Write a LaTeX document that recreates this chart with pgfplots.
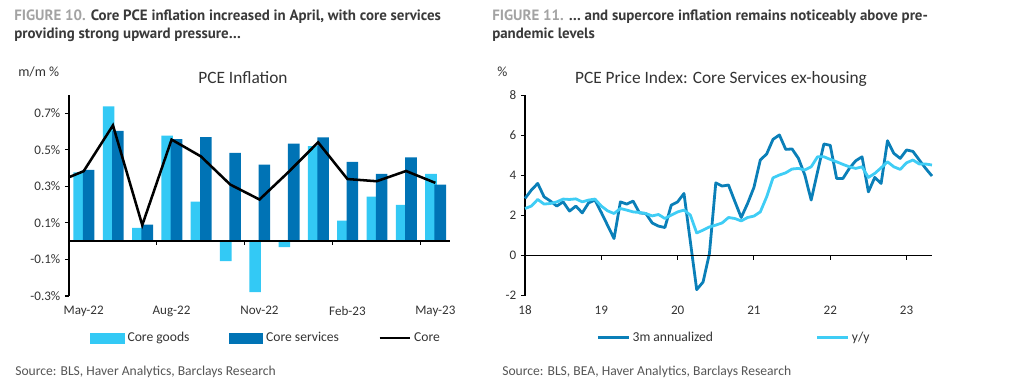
\documentclass[border=0pt]{standalone}
\usepackage{fontspec}
\setmainfont{Carlito}
\newfontfamily\headfont{PT Sans}
\usepackage{pgfplots}
\pgfplotsset{compat=1.18}
\definecolor{cgoods}{HTML}{33C9F5}
\definecolor{cserv}{HTML}{0073B5}
\definecolor{dline}{HTML}{0A7FB8}
\definecolor{lline}{HTML}{3FCDF5}
\definecolor{hdgray}{HTML}{3A3A3A}
\definecolor{figgray}{HTML}{A3A3A3}
\definecolor{srcgray}{HTML}{555555}
\definecolor{txt}{HTML}{333333}

\pgfplotstableread{
m g s
0 0.377 0.390
1 0.738 0.603
2 0.073 0.091
3 0.577 0.559
4 0.217 0.570
5 -0.109 0.483
6 -0.279 0.419
7 -0.033 0.534
8 0.520 0.568
9 0.113 0.434
10 0.244 0.368
11 0.199 0.459
12 0.368 0.310
}\pcebars

\pgfplotstableread{
m c
-0.5 0.350
0 0.383
1 0.634
2 0.088
3 0.556
4 0.464
5 0.310
6 0.228
7 0.380
8 0.541
9 0.340
10 0.328
11 0.384
12 0.319
}\pcecore

\pgfplotstableread{
m a y
0 2.85 2.35
1 3.27 2.47
2 3.60 2.80
3 2.93 2.57
4 2.72 2.60
5 2.47 2.68
6 2.68 2.82
7 2.22 2.80
8 2.47 2.83
9 2.13 2.68
10 2.63 2.77
11 2.77 2.82
12 2.15 2.47
13 1.50 2.23
14 0.85 2.10
15 2.68 2.35
16 2.57 2.27
17 2.72 2.18
18 2.13 2.15
19 2.10 2.10
20 1.63 1.98
21 1.47 2.05
22 1.40 1.85
23 2.52 2.02
24 2.68 2.18
25 3.10 2.27
26 0.70 2.02
27 -1.70 1.13
28 -1.32 1.27
29 0.10 1.43
30 3.63 1.52
31 3.47 1.63
32 3.52 1.90
33 2.70 1.85
34 1.90 1.73
35 2.60 1.90
36 3.40 1.97
37 4.77 2.18
38 5.07 2.93
39 5.80 3.88
40 6.02 4.02
41 5.30 4.13
42 5.32 4.32
43 4.85 4.35
44 4.02 4.27
45 2.77 4.43
46 4.18 4.93
47 5.57 4.93
48 5.50 4.80
49 3.85 4.68
50 3.85 4.55
51 4.35 4.43
52 4.73 4.35
53 4.93 4.43
54 3.18 3.90
55 3.90 4.10
56 3.60 4.38
57 5.73 4.68
58 5.10 4.43
59 4.85 4.30
60 5.27 4.63
61 5.20 4.77
62 4.77 4.57
63 4.35 4.57
64 3.97 4.52
}\supercore

\begin{document}
\begin{tikzpicture}
\useasboundingbox (0,0) rectangle (768pt,285.75pt);

% ---------- left chart ----------
\begin{axis}[
  at={(51.75pt,214.5pt)}, anchor=north west,
  scale only axis, width=285.75pt, height=150.75pt,
  xmin=-0.5, xmax=12.5, ymin=-0.3, ymax=0.8,
  axis y line*=left, axis x line*=bottom,
  x axis line style={draw=none},
  y axis line style={black, line width=1.1pt, -},
  xtick={0,3,6,9,12},
  xticklabels={May-22,Aug-22,Nov-22,Feb-23,May-23},
  xtick style={draw=none},
  ytick={-0.3,-0.1,0.1,0.3,0.5,0.7},
  yticklabels={-0.3\%,-0.1\%,0.1\%,0.3\%,0.5\%,0.7\%},
  ytick style={black, line width=0.8pt},
  tick align=outside, major tick length=3pt,
  tick label style={font=\fontsize{9.8}{11}\selectfont, text=txt},
  xticklabel style={yshift=-1pt},
  legend style={at={(0.055,-0.21)}, anchor=west, draw=none, fill=none,
    legend columns=3, font=\fontsize{10.2}{11}\selectfont, text=txt,
    /tikz/every even column/.append style={column sep=27.5pt},
    inner sep=0pt, nodes={inner sep=2pt}},
  clip=false,
]
\addplot[ybar, bar width=8.7pt, bar shift=-3.3pt, fill=cgoods, draw=none,
  legend image code/.code={\fill[cgoods] (0pt,-4pt) rectangle (26pt,4pt);}]
  table[x=m, y=g] {\pcebars};
\addlegendentry{Core goods}
\addplot[ybar, bar width=8.7pt, bar shift=3.7pt, fill=cserv, draw=none,
  legend image code/.code={\fill[cserv] (0pt,-4pt) rectangle (26pt,4pt);}]
  table[x=m, y=s] {\pcebars};
\addlegendentry{Core services}
\addplot[black, line width=1.9pt, mark=none,
  legend image code/.code={\draw[black, line width=1.9pt] (0pt,0pt) -- (23pt,0pt);}]
  table[x=m, y=c] {\pcecore};
\addlegendentry{Core}
\draw[black, line width=1.2pt] (axis cs:-0.5,0) -- (axis cs:12.5,0);
\pgfplotsinvokeforeach{2.5,5.5,8.5,11.5}{
  \draw[black, line width=0.8pt] (axis cs:#1,0) -- ++(0pt,-3pt);
}
\end{axis}

% ---------- right chart ----------
\begin{axis}[
  at={(393.75pt,214.3pt)}, anchor=north west,
  scale only axis, width=305.25pt, height=150.3pt,
  xmin=0, xmax=64, ymin=-2, ymax=8,
  axis y line*=left, axis x line*=bottom,
  x axis line style={draw=none},
  y axis line style={black, line width=1.1pt, -},
  xtick={0,12,24,36,48,60},
  xticklabels={18,19,20,21,22,23},
  xtick style={draw=none},
  ytick={-2,0,2,4,6,8},
  yticklabels={-2,0,2,4,6,8},
  ytick style={black, line width=0.8pt},
  tick align=outside, major tick length=3pt,
  tick label style={font=\fontsize{9.8}{11}\selectfont, text=txt},
  xticklabel style={yshift=-1pt},
  legend style={at={(0.175,-0.21)}, anchor=west, draw=none, fill=none,
    legend columns=2, font=\fontsize{10.2}{11}\selectfont, text=txt,
    /tikz/every even column/.append style={column sep=75pt},
    inner sep=0pt, nodes={inner sep=2pt}},
  clip=false,
]
\addplot[dline, line width=2.1pt, mark=none, line join=round,
  legend image code/.code={\draw[dline, line width=2.1pt] (0pt,0pt) -- (23pt,0pt);}]
  table[x=m, y=a] {\supercore};
\addlegendentry{3m annualized}
\addplot[lline, line width=2.1pt, mark=none, line join=round,
  legend image code/.code={\draw[lline, line width=2.1pt] (0pt,0pt) -- (23pt,0pt);}]
  table[x=m, y=y] {\supercore};
\addlegendentry{y/y}
\draw[black, line width=1.2pt] (axis cs:0,0) -- (axis cs:64,0);
\pgfplotsinvokeforeach{12,24,36,48,60}{
  \draw[black, line width=0.8pt] (axis cs:#1,0) -- ++(0pt,-3pt);
}
\end{axis}

% ---------- texts ----------
\begin{scope}[shift={(0,285.75pt)}, x=0.75pt, y=-0.75pt]
\node[anchor=base west, inner sep=0pt, font=\headfont\bfseries\fontsize{11.2}{13}\selectfont] at (14,21)
  {\textcolor{figgray}{FIGURE 10.} \textcolor{hdgray}{Core PCE inflation increased in April, with core services}};
\node[anchor=base west, inner sep=0pt, font=\headfont\bfseries\fontsize{11.2}{13}\selectfont, text=hdgray] at (14,39)
  {providing strong upward pressure\ldots};
\node[anchor=base west, inner sep=0pt, font=\headfont\bfseries\fontsize{11.2}{13}\selectfont] at (492,21)
  {\textcolor{figgray}{FIGURE 11.} \textcolor{hdgray}{\ldots{} and supercore inflation remains noticeably above pre-}};
\node[anchor=base west, inner sep=0pt, font=\headfont\bfseries\fontsize{11.2}{13}\selectfont, text=hdgray] at (492,39)
  {pandemic levels};
\node[anchor=base west, inner sep=0pt, font=\fontsize{10.5}{12}\selectfont, text=txt] at (18,77) {m/m \%};
\node[anchor=base west, inner sep=0pt, font=\fontsize{10.5}{12}\selectfont, text=txt] at (497,77) {\%};
\node[anchor=base, inner sep=0pt, font=\fontsize{13}{15}\selectfont, text=txt] at (243,84) {PCE Inflation};
\node[anchor=base, inner sep=0pt, font=\fontsize{13}{15}\selectfont, text=txt] at (721,84) {PCE Price Index: Core Services ex-housing};
\node[anchor=base west, inner sep=0pt, font=\fontsize{10.2}{11}\selectfont, text=srcgray] at (15,376) {Source: BLS, Haver Analytics, Barclays Research};
\node[anchor=base west, inner sep=0pt, font=\fontsize{10.2}{11}\selectfont, text=srcgray] at (502,376) {Source: BLS, BEA, Haver Analytics, Barclays Research};
\end{scope}
\end{tikzpicture}
\end{document}
